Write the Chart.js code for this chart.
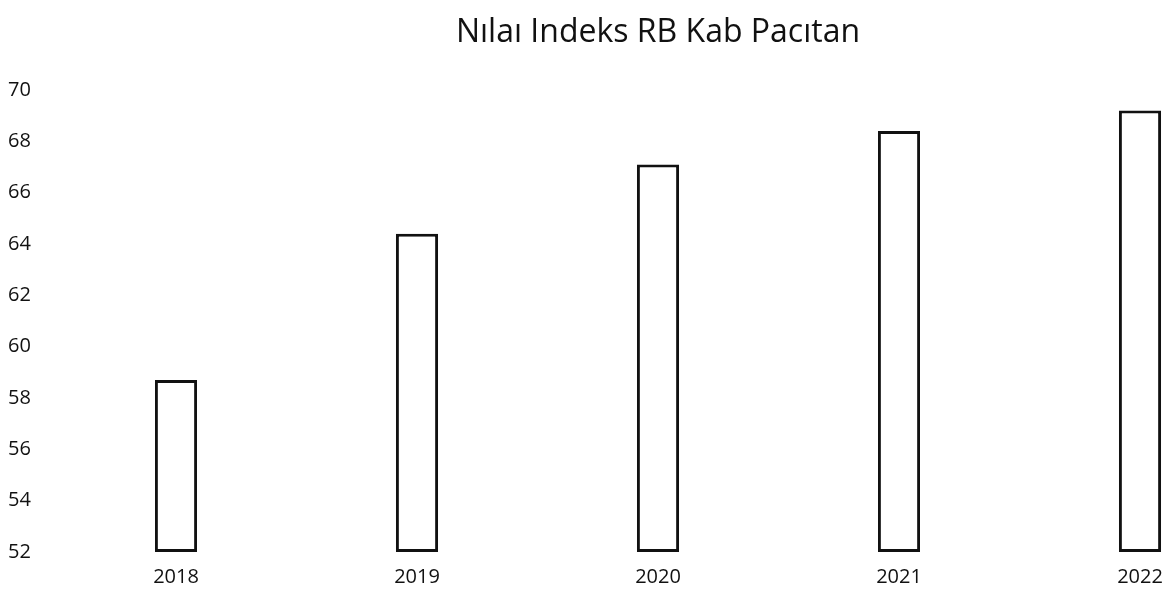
<!DOCTYPE html>
<html>
<head>
<meta charset="utf-8">
<script src="https://cdn.jsdelivr.net/npm/chart.js@4"></script>
<style>
  html, body { margin: 0; padding: 0; background: #fff; }
  #wrap { width: 1170px; height: 595px; }
</style>
</head>
<body>
<div id="wrap"><canvas id="chart"></canvas></div>
<script>
const years = ['2018', '2019', '2020', '2021', '2022'];
const indexValues = [58.7, 64.4, 67.1, 68.4, 69.2];
const yMin = 52;
const yMax = 70;
const yStep = 2;

const data = {
  labels: years,
  datasets: [{
    label: 'Nilai Indeks RB',
    data: indexValues,
    base: yMin,
    backgroundColor: '#ffffff',
    borderColor: '#111111',
    borderWidth: 3,
    borderSkipped: false,
    categoryPercentage: 1,
    barPercentage: 0.175,
    clip: false,
  }]
};

const config = {
  type: 'bar',
  data,
  options: {
    responsive: true,
    maintainAspectRatio: false,
    animation: false,
    layout: {
      padding: { left: 8, right: 30, top: 0, bottom: 0 }
    },
    plugins: {
      legend: { display: false },
      tooltip: { enabled: false },
      title: {
        display: true,
        fullSize: false,
        text: 'Nılaı Indeks RB Kab Pacıtan',
        color: '#111111',
        font: { family: 'Open Sans', size: 32, weight: 'normal' },
        padding: { top: 14, bottom: 37.6 }
      }
    },
    scales: {
      x: {
        offset: false,
        grid: { display: false, drawTicks: false },
        border: { display: false },
        ticks: {
          autoSkip: false,
          maxRotation: 0,
          padding: 13,
          color: '#111111',
          font: { family: 'Open Sans', size: 20 }
        },
        afterFit: function(scale) {
          scale.height = 43;
          scale.paddingLeft = 0;
          scale.paddingRight = 0;
        }
      },
      y: {
        min: yMin,
        max: yMax,
        grid: { display: false, drawTicks: false },
        border: { display: false },
        ticks: {
          stepSize: yStep,
          crossAlign: 'far',
          color: '#111111',
          font: { family: 'Open Sans', size: 20 }
        },
        afterFit: function(scale) { scale.width = 168; }
      }
    }
  }
};

new Chart(document.getElementById('chart'), config);
</script>
</body>
</html>
